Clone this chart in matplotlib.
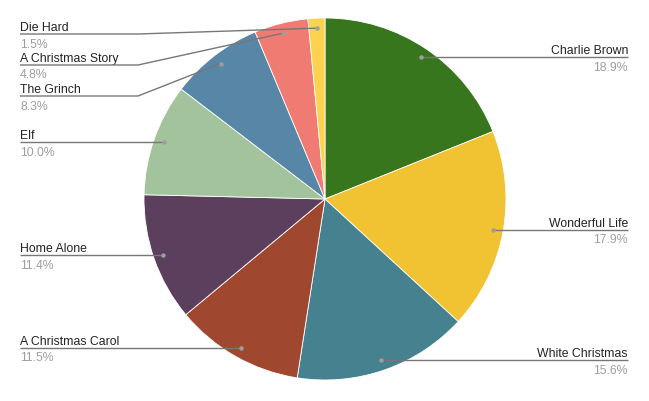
import numpy as np
import matplotlib
matplotlib.use("Agg")
import matplotlib.pyplot as plt

labels = ["Charlie Brown", "Wonderful Life", "White Christmas", "A Christmas Carol",
          "Home Alone", "Elf", "The Grinch", "A Christmas Story", "Die Hard"]
values = [18.9, 17.9, 15.6, 11.5, 11.4, 10.0, 8.3, 4.8, 1.5]
colors = ["#38761d", "#f1c232", "#45818e", "#a0472f", "#5b3f5c",
          "#a2c39b", "#5886a7", "#f07b72", "#fdd24f"]

W, H = 649, 402
fig = plt.figure(figsize=(W / 100, H / 100), dpi=100)
ax = fig.add_axes([0, 0, 1, 1])
ax.set_xlim(0, W)
ax.set_ylim(0, H)
ax.set_aspect("equal")
ax.axis("off")

cx, cy, R = 325, H - 200, 181
wedges, _ = ax.pie(values, colors=colors, startangle=90, counterclock=False,
                   center=(cx, cy), radius=R, frame=True,
                   wedgeprops=dict(linewidth=0.6, edgecolor="white"))
ax.set_xlim(0, W)
ax.set_ylim(0, H)
ax.axis("off")

total = sum(values)
fams = ["Liberation Sans", "DejaVu Sans"]
fs = 8.8
cum = 0
anchors = []
for v in values:
    mid = (cum + v / 2) / total * 360
    cum += v
    th = np.radians(mid)
    ax_ = cx + 0.945 * R * np.sin(th)
    ay_ = cy + 0.945 * R * np.cos(th)
    anchors.append((ax_, ay_, np.sin(th) >= 0))

# resolve label y positions per side (top-down, spacing 31 px, top limit)
top_limit = H - 35
spacing = 31
label_y = [None] * len(values)
for side in (True, False):
    idx = [i for i in range(len(values)) if anchors[i][2] == side]
    idx.sort(key=lambda i: -anchors[i][1])
    prev = None
    for i in idx:
        y = min(anchors[i][1], top_limit)
        if prev is not None:
            y = min(y, prev - spacing)
        label_y[i] = y
        prev = y

line_col = "#777777"
for i, (lab, v) in enumerate(zip(labels, values)):
    axp, ayp, right = anchors[i]
    ly = label_y[i]
    if right:
        tx = 628
        elbow = cx + R + 6
        ha = "right"
    else:
        tx = 20
        elbow = cx - R - 6
        ha = "left"
    if abs(ly - ayp) < 3:
        xs, ys = [tx, axp], [ly, ayp]
    else:
        xs, ys = [tx, elbow, axp], [ly, ly, ayp]
    ax.plot(xs, ys, color=line_col, lw=1.0, solid_capstyle="butt", zorder=5)
    ax.plot([axp], [ayp], "o", ms=3.2, color="#9e9e9e", mec="none", zorder=6)
    ax.text(tx, ly + 4, lab, ha=ha, va="baseline", fontsize=fs,
            family=fams, color="#222222")
    ax.text(tx, ly - 12.5, f"{v:.1f}%", ha=ha, va="baseline", fontsize=fs,
            family=fams, color="#9e9e9e")

fig.savefig("out.png", dpi=100, facecolor="white")
